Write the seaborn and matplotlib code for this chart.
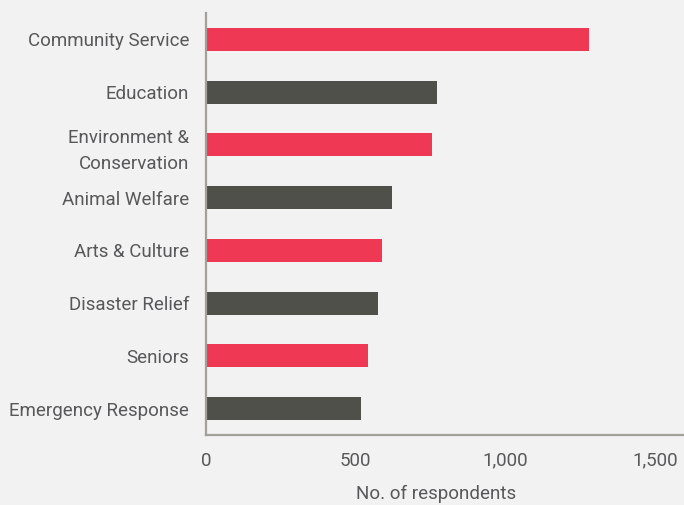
import matplotlib
matplotlib.use("Agg")
import matplotlib.pyplot as plt
import seaborn as sns
import pandas as pd

# data
categories = ["Community Service", "Education", "Environment &\nConservation",
              "Animal Welfare", "Arts & Culture", "Disaster Relief",
              "Seniors", "Emergency Response"]
respondents = [1278, 772, 755, 622, 588, 575, 542, 518]
bar_colors = ["#ef3954", "#50504b", "#ef3954", "#50504b",
              "#ef3954", "#50504b", "#ef3954", "#50504b"]
x_ticks = [0, 500, 1000, 1500]
x_ticklabels = ["0", "500", "1,000", "1,500"]

df = pd.DataFrame({"category": categories, "respondents": respondents})

sns.set_style("white")
plt.rcParams['font.family'] = ['Roboto', 'DejaVu Sans']

bg = "#f2f2f2"
text_color = "#58585a"
spine_color = "#a3a09c"
fsize = 13.5

fig = plt.figure(figsize=(6.84, 5.05), dpi=100, facecolor=bg)
ax = fig.add_axes([0.301, 0.1386, 0.699, 0.8357])
ax.set_facecolor(bg)

sns.barplot(data=df, x="respondents", y="category", hue="category",
            palette=bar_colors, width=0.44, legend=False, ax=ax,
            saturation=1, errorbar=None, linewidth=0)

ax.set_xlim(0, 1595)
ax.set_ylim(7.5, -0.5)
ax.set_xticks(x_ticks)
ax.set_xticklabels(x_ticklabels)
ax.tick_params(axis="both", length=0, colors=text_color, labelsize=fsize)
ax.tick_params(axis="y", pad=12)
ax.tick_params(axis="x", pad=12)

ax.set_ylabel("")
ax.set_xlabel("No. of respondents", fontsize=fsize, color=text_color,
              labelpad=11, x=0.481)

for side in ["top", "right"]:
    ax.spines[side].set_visible(False)
for side in ["left", "bottom"]:
    ax.spines[side].set_color(spine_color)
    ax.spines[side].set_linewidth(1.6)

for lbl in ax.get_yticklabels():
    lbl.set_linespacing(1.6)

fig.savefig("out.png", dpi=100, facecolor=bg)
